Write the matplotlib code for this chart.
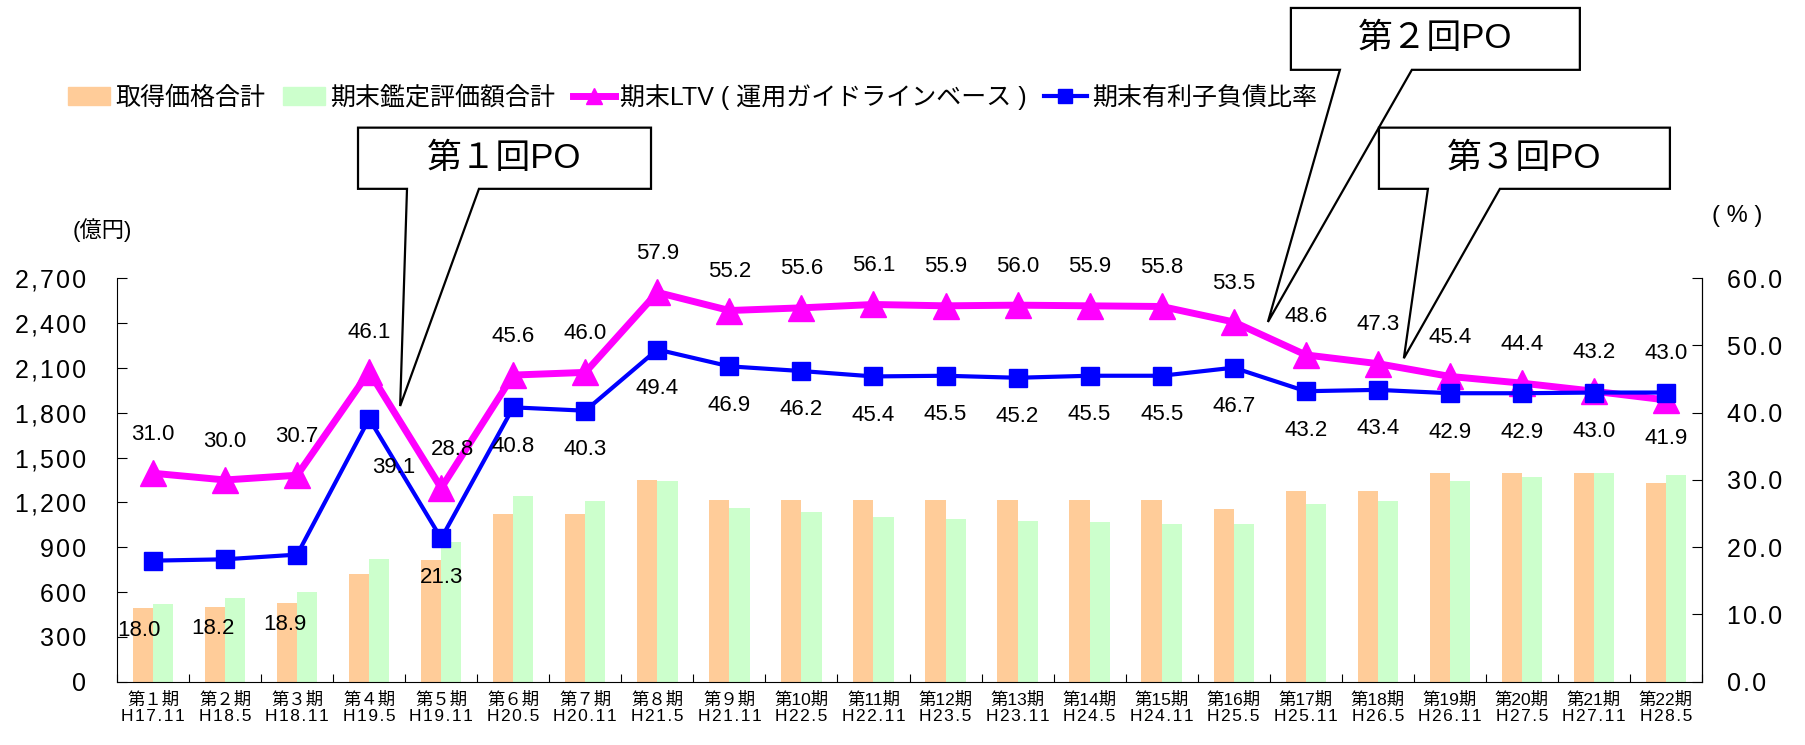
import numpy as np
import matplotlib
matplotlib.use("Agg")
import matplotlib.pyplot as plt
from matplotlib.lines import Line2D
from matplotlib.patches import Patch, Polygon
from matplotlib.ticker import FuncFormatter

plt.rcParams["font.family"] = ["Liberation Sans", "Noto Sans CJK JP", "DejaVu Sans"]

# data
periods = ["第１期", "第２期", "第３期", "第４期", "第５期", "第６期", "第７期",
           "第８期", "第９期"] + [f"第{i}期" for i in range(10, 23)]
dates = ["H17.11", "H18.5", "H18.11", "H19.5", "H19.11", "H20.5", "H20.11",
         "H21.5", "H21.11", "H22.5", "H22.11", "H23.5", "H23.11", "H24.5",
         "H24.11", "H25.5", "H25.11", "H26.5", "H26.11", "H27.5", "H27.11",
         "H28.5"]
acquisition = [490, 503, 526, 721, 815, 1119, 1119, 1349, 1215, 1215, 1215,
               1215, 1215, 1215, 1215, 1159, 1277, 1277, 1394, 1394, 1394, 1329]
appraisal = [521, 560, 602, 823, 935, 1242, 1211, 1340, 1163, 1134, 1105,
             1092, 1078, 1067, 1058, 1056, 1188, 1208, 1345, 1367, 1398, 1380]
ltv = [31.0, 30.0, 30.7, 46.1, 28.8, 45.6, 46.0, 57.9, 55.2, 55.6, 56.1,
       55.9, 56.0, 55.9, 55.8, 53.5, 48.6, 47.3, 45.4, 44.4, 43.2, 41.9]
debt_ratio = [18.0, 18.2, 18.9, 39.1, 21.3, 40.8, 40.3, 49.4, 46.9, 46.2,
              45.4, 45.5, 45.2, 45.5, 45.5, 46.7, 43.2, 43.4, 42.9, 42.9,
              43.0, 43.0]

# hand-moved labels in the original (points)
ltv_nudge = {4: (8, 0)}
debt_nudge = {0: (-10, -22), 1: (-9, -22), 2: (-9, -22), 3: (18, -7)}

# callouts: label, box (x0, x1, y0, y1), tail base (xa, xb), tip (x, y) in ax2 data units
callouts = [
    ("第１回PO", (2.845, 6.912, 73.3, 82.4), (3.525, 4.524), (3.43, 41.0)),
    ("第２回PO", (15.794, 19.805, 91.0, 100.2), (16.474, 17.473), (15.475, 53.5)),
    ("第３回PO", (17.016, 21.055, 73.3, 82.4), (17.696, 18.695), (17.362, 48.1)),
]

ORANGE = "#FFCC99"
GREEN = "#CCFFCC"
MAGENTA = "#FF00FF"
BLUE = "#0000FF"
HAIR = "\u200a"


def spaced(s):
    return HAIR.join(s)


fig = plt.figure(figsize=(18.06, 7.45), dpi=100)
ax = fig.add_axes([0.0648, 0.0850, 0.8776, 0.5415])
ax2 = ax.twinx()

x = np.arange(len(periods))
w = 0.28
ax.bar(x - w / 2, acquisition, w, color=ORANGE, zorder=2)
ax.bar(x + w / 2, appraisal, w, color=GREEN, zorder=2)

ax2.plot(x, ltv, color=MAGENTA, lw=5, marker="^", ms=19, zorder=3)
ax2.plot(x, debt_ratio, color=BLUE, lw=3, marker="s", ms=13, zorder=4)

# value labels: higher series above, lower below
for i in x:
    for vals, other, nudge in ((ltv, debt_ratio, ltv_nudge), (debt_ratio, ltv, debt_nudge)):
        up = vals[i] >= other[i]
        dx, dy = nudge.get(i, (0, 0))
        ax2.annotate(f"{vals[i]:.1f}", (i, vals[i]),
                     xytext=(dx, (28 if up else -28) + dy), textcoords="offset points",
                     ha="center", va="center", fontsize=16,
                     family=["Liberation Sans Narrow", "Liberation Sans"],
                     zorder=6)

ax.set_xlim(-0.5, len(periods) - 0.5)
ax.set_ylim(0, 2700)
ax2.set_ylim(0, 60)
ax.set_yticks(np.arange(0, 2701, 300))
ax2.set_yticks(np.arange(0, 61, 10))
ax.yaxis.set_major_formatter(FuncFormatter(lambda v, p: spaced(f"{int(v):,}")))
ax2.yaxis.set_major_formatter(FuncFormatter(lambda v, p: spaced(f"{v:.1f}")))

ax.set_xticks(np.arange(-0.5, len(periods), 1))
ax.set_xticklabels([])
ax.set_xticks(x, minor=True)
ax.set_xticklabels([f"{p}\n{spaced(d)}" for p, d in zip(periods, dates)], minor=True,
                   fontsize=12.5, linespacing=1.1)
ax.tick_params(axis="x", which="major", direction="in", length=6)
ax.tick_params(axis="x", which="minor", length=0, pad=7)
ax.tick_params(axis="y", direction="in", length=7, labelsize=18, pad=22)
ax2.tick_params(axis="y", direction="in", length=7, labelsize=18, pad=18)

for a in (ax, ax2):
    a.spines["top"].set_visible(False)
ax2.spines["left"].set_visible(False)
ax2.spines["bottom"].set_visible(False)

fig.text(102 / 1806, 1 - 230 / 745, "(億円)", ha="center", va="center", fontsize=16)
fig.text(1737 / 1806, 1 - 216 / 745, "( % )", ha="center", va="center", fontsize=17)

for label, (x0, x1, y0, y1), (xa, xb), (tx, ty) in callouts:
    pts = [(x0, y1), (x1, y1), (x1, y0), (xb, y0), (tx, ty), (xa, y0), (x0, y0)]
    ax2.add_patch(Polygon(pts, closed=True, facecolor="white", edgecolor="black",
                          lw=1.6, clip_on=False, zorder=8))
    ax2.text((x0 + x1) / 2, (y0 + y1) / 2, label, ha="center", va="center",
             fontsize=25, zorder=9, clip_on=False)

handles = [
    Patch(color=ORANGE),
    Patch(color=GREEN),
    Line2D([], [], color=MAGENTA, lw=5, marker="^", ms=11),
    Line2D([], [], color=BLUE, lw=3, marker="s", ms=10),
]
labels = ["取得価格合計", "期末鑑定評価額合計", "期末LTV ( 運用ガイドラインベース )", "期末有利子負債比率"]
fig.legend(handles, labels, loc="center left", bbox_to_anchor=(45 / 1806, 1 - 97 / 745),
           ncol=4, frameon=False, fontsize=18, handlelength=1.7,
           handletextpad=0.2, columnspacing=0.7)

fig.savefig("out.png", dpi=100)
